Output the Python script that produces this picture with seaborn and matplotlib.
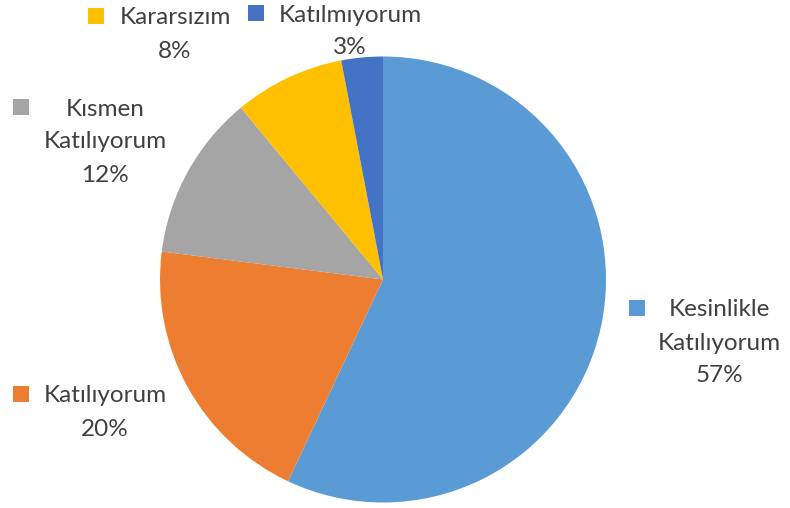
import numpy as np
import pandas as pd
import seaborn as sns
import matplotlib.pyplot as plt

# -------------------------------
# Data
# -------------------------------
categories = ["Kesinlikle\nKatılıyorum", "Katılıyorum", "Kısmen\nKatılıyorum", "Kararsızım", "Katılmıyorum"]
percents = [57, 20, 12, 8, 3]
colors = ["#5B9BD5", "#ED7D31", "#A5A5A5", "#FFC000", "#4472C4"]

# label block positions in pixels (x centre of text, y of first line, from top)
label_pos = [(719, 310), (105, 396), (105, 109), (175, 18), (350, 15)]
marker_x = [637, 21, 21, 96, 256]

# -------------------------------
# Plot
# -------------------------------
sns.set_style("white")
plt.rcParams['font.family'] = ['Lato', 'DejaVu Sans']

W, H = 790, 508
fig = plt.figure(figsize=(W / 100, H / 100), dpi=100)
ax = fig.add_axes([0, 0, 1, 1])

ax.pie(percents, colors=colors, startangle=90, counterclock=False,
       center=(383, H - 279.5), radius=223, frame=True,
       wedgeprops=dict(linewidth=0))
ax.set_xlim(0, W)
ax.set_ylim(0, H)
ax.set_aspect('equal')
ax.axis('off')

text_color = "#404040"
line_h = 33
for cat, pct, col, (x, y), mx in zip(categories, percents, colors, label_pos, marker_x):
    lines = cat.split("\n") + [f"{pct}%"]
    for i, line in enumerate(lines):
        ax.text(x, H - (y + i * line_h), line, ha='center', va='center',
                fontsize=17.5, color=text_color)
    ax.scatter([mx], [H - y + 2], marker='s', s=120, color=col, linewidths=0)

plt.savefig("out.png", dpi=100)
plt.close()
